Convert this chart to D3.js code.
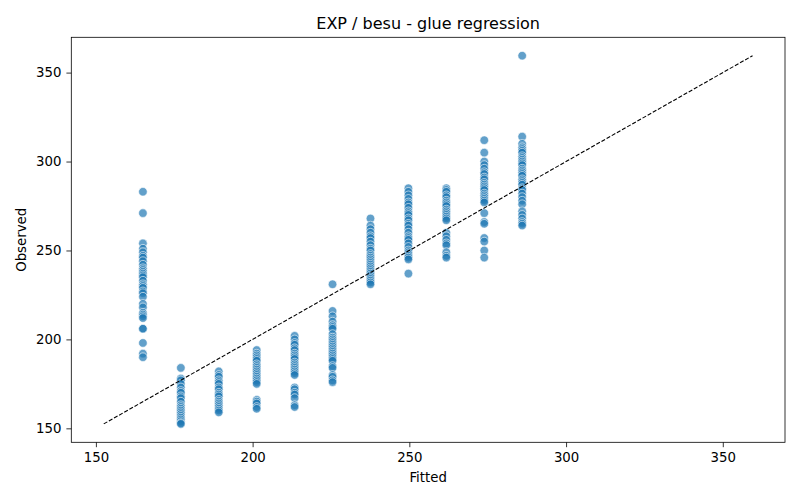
<!DOCTYPE html>
<html>
<head>
<meta charset="utf-8">
<script src="https://cdn.jsdelivr.net/npm/d3@7"></script>
<style>
  body { margin: 0; background: #fff; }
  svg { font-family: "DejaVu Sans", sans-serif; }
</style>
</head>
<body>
<svg id="chart" width="800" height="500"></svg>
<script>
// fitted value of each group (x) and observed values (y)
const fittedLevels = [165, 177.1, 189.2, 201.3, 213.4, 225.5, 237.6, 249.7, 261.8, 273.9, 286];
const observedByLevel = [
  [283, 271, 254, 251, 249, 247, 246, 244, 242, 240, 239, 238, 237, 236, 235, 233, 231, 230, 229, 227, 226, 224, 220, 218, 215, 214, 213, 212, 206, 206, 198, 192, 190],
  [184, 178, 177, 175, 173, 171, 170, 168, 167, 165, 163, 162, 161, 160, 159, 158, 157, 156, 155, 154, 153, 152.5],
  [182, 180, 179, 177, 176, 175, 173, 172, 170, 169, 168, 166, 165, 164, 163, 162, 161, 160, 159],
  [194, 192, 191, 190, 189, 188, 186, 185, 184, 183, 182, 181, 180, 179, 178, 177, 176, 175, 166, 165, 164, 162, 161],
  [202, 200, 198, 197, 195, 194, 192, 191, 190, 189, 187, 186, 185, 184, 183, 182, 181, 180, 173, 172, 170, 169, 167, 163, 162],
  [231, 216, 213, 210, 208, 207, 206, 203, 201, 200, 199, 198, 197, 196, 195, 194, 193, 192, 191, 190, 189, 188, 185, 184, 180, 179, 177, 176],
  [268, 264, 262, 260, 258, 257, 255, 253, 251, 250, 248, 247, 246, 245, 244, 243, 242, 241, 240, 239, 238, 237, 236, 235, 234, 233, 232, 231],
  [285, 283, 281, 279, 277, 276, 274, 272, 271, 270, 268, 267, 265, 264, 262, 260, 258, 257, 256, 254, 252, 250, 249, 248, 247, 246, 245, 237],
  [285, 284, 283, 281, 280, 278, 277, 276, 275, 273, 272, 271, 270, 269, 268, 267, 260, 258, 256, 254, 253, 249, 247, 246],
  [312, 305, 300, 298, 296, 294, 293, 291, 290, 288, 287, 286, 285, 284, 282, 281, 280, 279, 278, 277, 271, 266, 265, 257, 255, 250, 246],
  [359.5, 314, 310, 308, 307, 306, 305, 303, 302, 301, 300, 299, 298, 296, 295, 294, 293, 292, 290, 289, 288, 287, 285, 284, 282, 280, 278, 276, 272, 270, 268, 266, 265, 264]
];
const xTicks = [150, 200, 250, 300, 350];
const yTicks = [150, 200, 250, 300, 350];

// flatten into points
const points = [];
fittedLevels.forEach((f, i) => {
  observedByLevel[i].forEach(o => points.push({ fitted: f, observed: o }));
});

const svg = d3.select('#chart');
const margin = { top: 37.3, right: 15, bottom: 57.7, left: 71.3 };
const width = 800 - margin.left - margin.right;
const height = 500 - margin.top - margin.bottom;

// identity line spans min..max of all values
const allVals = points.flatMap(d => [d.fitted, d.observed]);
const lo = d3.min(allVals), hi = d3.max(allVals);
const pad = (hi - lo) * 0.05;

const x = d3.scaleLinear().domain([lo - pad, hi + pad]).range([0, width]);
const y = d3.scaleLinear().domain([lo - pad, hi + pad]).range([height, 0]);

const g = svg.append('g').attr('transform', `translate(${margin.left},${margin.top})`);

// points
g.append('g').selectAll('circle')
  .data(points)
  .enter().append('circle')
  .attr('cx', d => x(d.fitted))
  .attr('cy', d => y(d.observed))
  .attr('r', 4.3)
  .attr('fill', '#1f77b4')
  .attr('fill-opacity', 0.7)
  .attr('stroke', '#fff')
  .attr('stroke-width', 0.6);

// dashed y = x line
g.append('line')
  .attr('x1', x(lo)).attr('y1', y(lo))
  .attr('x2', x(hi)).attr('y2', y(hi))
  .attr('stroke', '#000')
  .attr('stroke-width', 1.1)
  .attr('stroke-dasharray', '4.1,1.8');

// axes
const xAxis = g.append('g')
  .attr('transform', `translate(0,${height})`)
  .call(d3.axisBottom(x).tickValues(xTicks).tickSize(4.9).tickPadding(4.9));
const yAxis = g.append('g')
  .call(d3.axisLeft(y).tickValues(yTicks).tickSize(4.9).tickPadding(4.9));

[xAxis, yAxis].forEach(a => {
  a.select('.domain').remove();
  a.selectAll('.tick line').attr('stroke', '#000').attr('stroke-width', 0.8);
  a.selectAll('.tick text').attr('fill', '#000').style('font-size', '13.3px').style('font-family', '"DejaVu Sans", sans-serif');
});

// frame
g.append('rect')
  .attr('width', width).attr('height', height)
  .attr('fill', 'none').attr('stroke', '#000').attr('stroke-width', 0.8);

// labels
svg.append('text')
  .attr('x', margin.left + width / 2).attr('y', 29)
  .attr('text-anchor', 'middle')
  .style('font-size', '16px')
  .text('EXP / besu - glue regression');

svg.append('text')
  .attr('x', margin.left + width / 2).attr('y', 482)
  .attr('text-anchor', 'middle')
  .style('font-size', '13.3px')
  .text('Fitted');

svg.append('text')
  .attr('transform', `translate(26,${margin.top + height / 2}) rotate(-90)`)
  .attr('text-anchor', 'middle')
  .style('font-size', '13.3px')
  .text('Observed');
</script>
</body>
</html>
